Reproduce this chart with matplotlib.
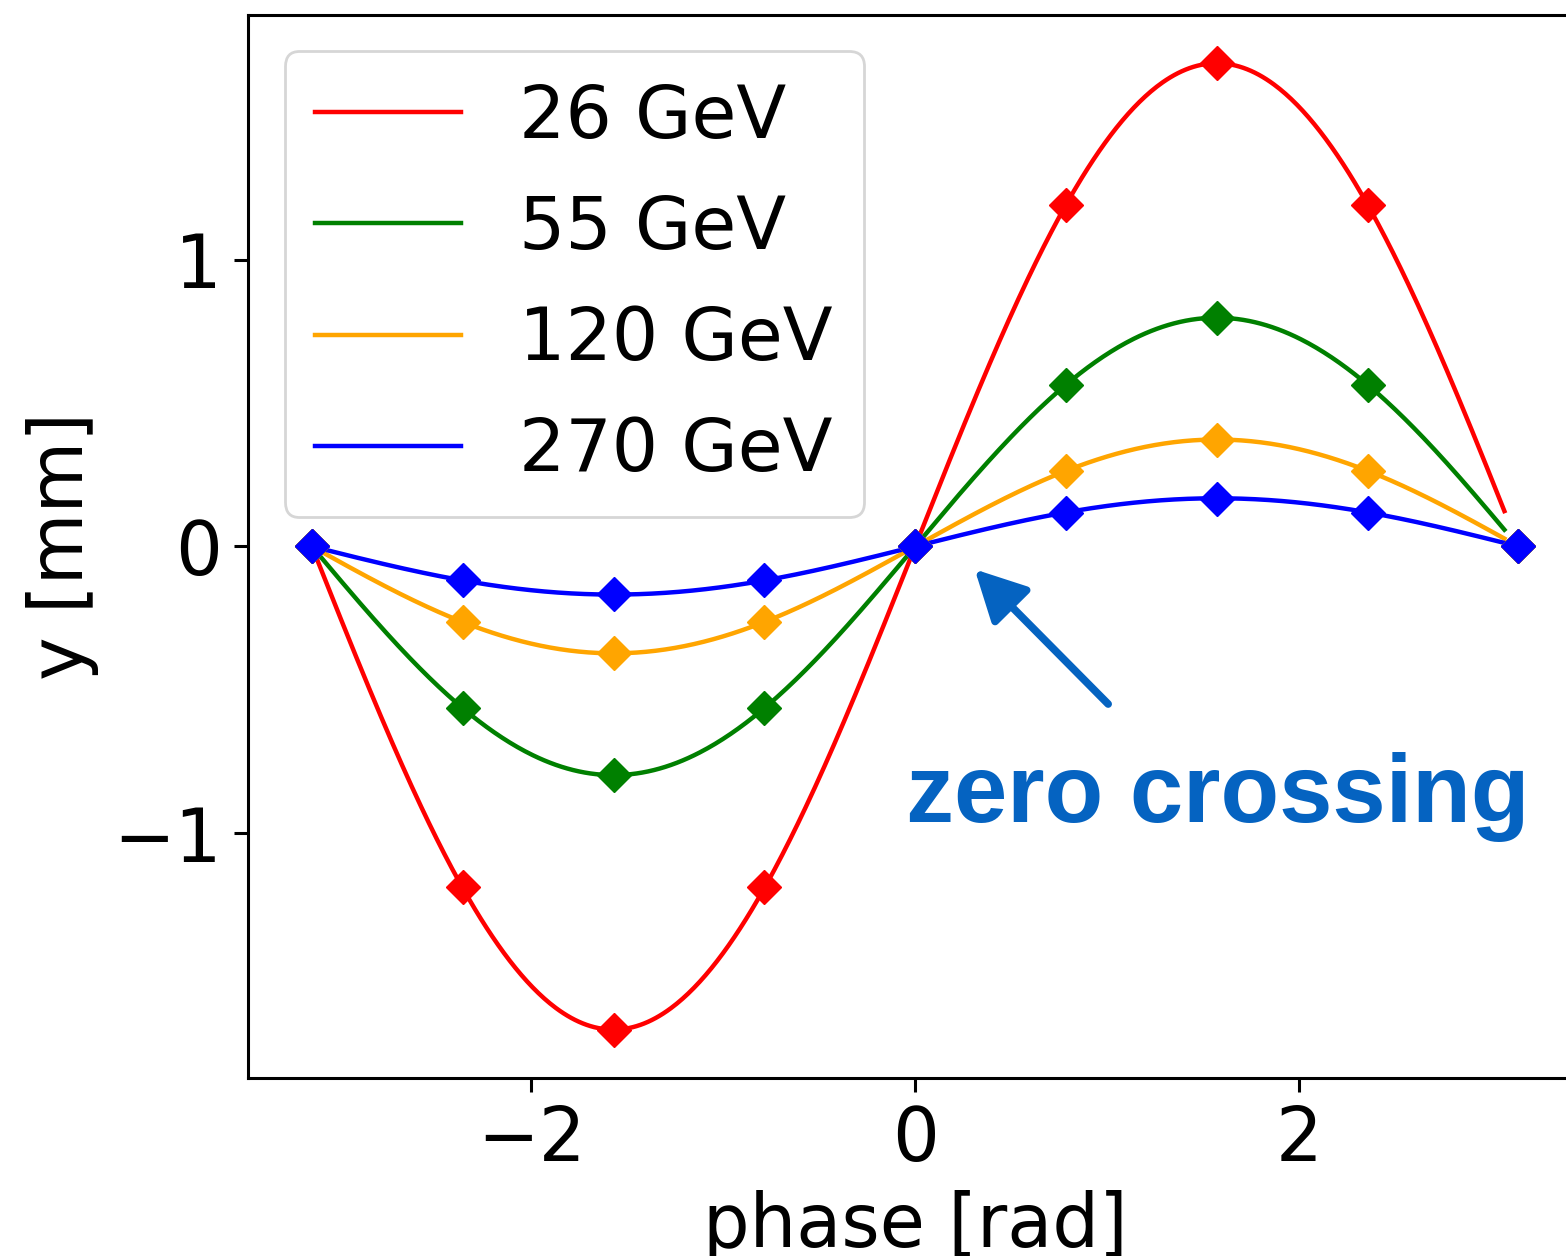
import numpy as np
import matplotlib
matplotlib.use("Agg")
import matplotlib.pyplot as plt

# Beam energies and fitted oscillation amplitudes [mm]
labels = ["26 GeV", "55 GeV", "120 GeV", "270 GeV"]
colors = ["red", "green", "orange", "blue"]
amplitudes = [1.686, 0.798, 0.373, 0.168]

# Measured points at the sampled phases
phase_points = [-np.pi, -3 * np.pi / 4, -np.pi / 2, -np.pi / 4, 0.0,
                np.pi / 4, np.pi / 2, 3 * np.pi / 4, np.pi]
y_26 = [0.0, -1.19, -1.686, -1.19, 0.0, 1.19, 1.686, 1.19, 0.0]
y_55 = [0.0, -0.565, -0.798, -0.565, 0.0, 0.565, 0.798, 0.565, 0.0]
y_120 = [0.0, -0.263, -0.373, -0.263, 0.0, 0.263, 0.373, 0.263, 0.0]
y_270 = [0.0, -0.117, -0.165, -0.117, 0.0, 0.117, 0.165, 0.117, 0.0]
point_sets = [y_26, y_55, y_120, y_270]

xticks = [-2, 0, 2]
yticks = [-1, 0, 1]

plt.rcParams["font.family"] = "DejaVu Sans"

fig = plt.figure(figsize=(15.66, 12.56), dpi=100)
ax = fig.add_axes([0.1584, 0.1417, 0.852, 0.8465])

# Sine model of each energy's oscillation
phase = np.arange(-np.pi, 3.075, 0.01)
for amp, col, lab in zip(amplitudes, colors, labels):
    ax.plot(phase, amp * np.sin(phase), color=col, lw=3.2, label=lab)

for ys, col in zip(point_sets, colors):
    ax.plot(phase_points, ys, linestyle="none", marker="D", ms=17,
            color=col)

ax.set_xlim(-3.474, 3.474)
ax.set_ylim(-1.855, 1.855)
ax.set_xticks(xticks)
ax.set_yticks(yticks)
ax.tick_params(labelsize=53, length=10, width=2.2, pad=9)
for sp in ax.spines.values():
    sp.set_linewidth(2.2)

ax.set_xlabel("phase [rad]", fontsize=53, labelpad=9)
ax.set_ylabel("y [mm]", fontsize=53, labelpad=10)

leg = ax.legend(loc="upper left", fontsize=52.5, handlelength=2.0,
                handletextpad=0.8, labelspacing=0.55, borderpad=0.42,
                borderaxespad=0.5, framealpha=0.8, fancybox=True)
leg.get_frame().set_linewidth(2.0)

# Annotation pointing at the common crossing point
note_color = "#0563C1"
ax.annotate("", xy=(0.31, -0.08), xytext=(1.005, -0.55),
            arrowprops=dict(arrowstyle="-|>,head_length=1.55,head_width=0.8",
                            mutation_scale=20, lw=5.5, color=note_color,
                            shrinkA=0, shrinkB=0))
ax.text(-0.05, -0.96, "zero crossing", fontsize=69, fontweight="bold",
        family="Liberation Sans", color=note_color, ha="left",
        va="baseline")

fig.savefig("out.png", dpi=100)
